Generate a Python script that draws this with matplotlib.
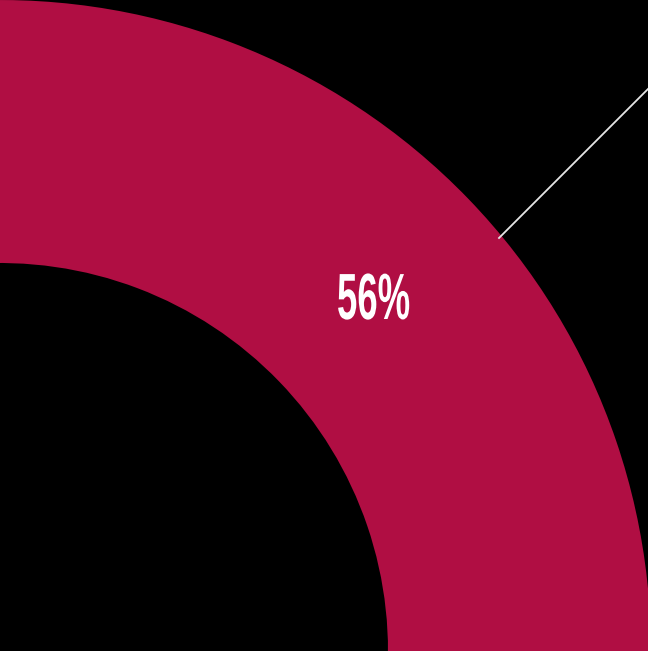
import matplotlib
matplotlib.use("Agg")
import matplotlib.pyplot as plt
from matplotlib import patheffects
from matplotlib.transforms import Affine2D

# donut data (only part of the 56% slice is in view)
labels = ["Yes", "No"]
shares = [56, 44]
colors = ["#B00E43", "#3a3a3a"]


class Squeeze(patheffects.AbstractPathEffect):
    # narrow the glyphs horizontally, no condensed font is installed
    def __init__(self, sx):
        super().__init__()
        self.sx = sx

    def draw_path(self, renderer, gc, tpath, affine, rgbFace=None):
        renderer.draw_path(gc, tpath, Affine2D().scale(self.sx, 1) + affine, rgbFace)


fig = plt.figure(figsize=(6.48, 6.51), dpi=100, facecolor="black")
ax = fig.add_axes([0, 0, 1, 1])
ax.set_facecolor("black")

start = 44 - shares[0] / 100 * 360 / 2
ax.pie(shares, colors=colors, radius=651, startangle=start, counterclock=True,
       center=(0, 0), frame=True,
       wedgeprops=dict(width=263, edgecolor="none", linewidth=0))

ax.text(337, 349, f"{shares[0]}%", color="white", ha="left", va="center",
        fontsize=47, fontweight="bold", family=["Liberation Sans", "DejaVu Sans"],
        path_effects=[Squeeze(0.56)])

ax.plot([499, 720], [413, 634], color="#e6e6e6", lw=1.3)

ax.set_xlim(0, 648)
ax.set_ylim(0, 651)
ax.set_aspect("auto")
ax.axis("off")

fig.savefig("out.png", dpi=100, facecolor="black")
